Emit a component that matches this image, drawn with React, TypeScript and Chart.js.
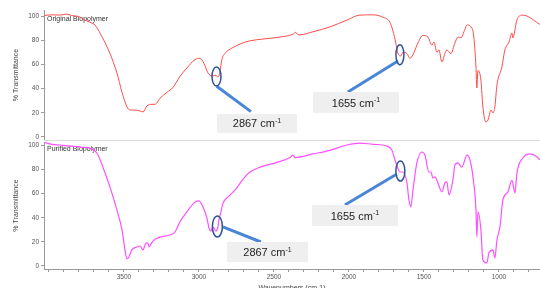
import React, { useEffect, useRef } from "react";
import { Chart, registerables } from "chart.js";

Chart.register(...registerables);

// ---------- data ----------
const wnOriginal = [
  4030, 3980, 3930, 3880, 3850, 3800, 3760, 3720, 3693, 3660, 3593, 3547, 3513, 3480, 3460, 3427, 3393, 3373,
  3347, 3313, 3293, 3260, 3213, 3173, 3127, 3080, 3027, 2993, 2967, 2940, 2913, 2887, 2873, 2860, 2847, 2827,
  2780, 2713, 2660, 2573, 2460, 2373, 2355, 2340, 2327, 2240, 2127, 2013, 1927, 1840, 1773, 1727, 1707, 1687,
  1673, 1653, 1640, 1613, 1593, 1573, 1540, 1507, 1473, 1447, 1433, 1413, 1400, 1380, 1360, 1347, 1320, 1293,
  1273, 1253, 1227, 1213, 1180, 1167, 1153, 1147, 1140, 1120, 1107, 1087, 1073, 1053, 1040, 1027, 1013, 980,
  960, 933, 913, 907, 880, 847, 813, 727,
];
const tOriginal = [
  100.5, 101, 100.8, 101.6, 100.5, 99.5, 96.7, 94.5, 92.6, 86, 69, 53, 37, 25, 22.3, 22.3, 21.5, 20.7,
  25.6, 27, 27, 32, 37, 41, 50, 57, 64, 65, 61, 53, 50.4, 51, 49.5, 54, 64, 69,
  73.5, 77.5, 79.5, 81, 82.6, 85, 86.5, 84.5, 84.5, 87, 91, 96.7, 100.8, 101, 99, 95, 88, 77.7,
  69, 67, 70, 69, 65, 68, 77.7, 84, 82.6, 76, 78.5, 70, 72, 62, 69, 72, 69, 77.7,
  82.6, 82, 89, 92.6, 90, 82.6, 58, 40.5, 55, 47, 25, 12.4, 14, 22.3, 19.8, 25, 43, 58,
  72, 78.5, 86, 82, 96.7, 100.8, 100, 93,
];

const wnPurified = [
  4030, 3980, 3927, 3850, 3780, 3727, 3680, 3640, 3593, 3547, 3513, 3493, 3480, 3467, 3447, 3413, 3393, 3373,
  3353, 3340, 3333, 3307, 3260, 3193, 3160, 3127, 3080, 3027, 3000, 2973, 2947, 2933, 2920, 2907, 2887, 2873,
  2867, 2853, 2840, 2800, 2760, 2700, 2660, 2593, 2480, 2393, 2373, 2360, 2240, 2127, 2013, 1927, 1840, 1747,
  1713, 1693, 1673, 1660, 1640, 1613, 1600, 1587, 1573, 1547, 1513, 1493, 1467, 1453, 1440, 1427, 1407, 1380,
  1360, 1347, 1333, 1307, 1293, 1273, 1247, 1213, 1193, 1173, 1153, 1147, 1140, 1120, 1107, 1080, 1067, 1040,
  1027, 1013, 993, 973, 940, 913, 893, 880, 840, 793, 747, 727,
];
const tPurified = [
  102.5, 101, 100.4, 99.5, 98.5, 97.7, 93.8, 82, 65.5, 46.5, 30, 13.3, 5.8, 7.5, 13.3, 15.8, 16.6, 13.3,
  19, 19, 15.8, 20.7, 24, 25.7, 28, 36.5, 45, 53, 54, 49, 40, 31.5, 29, 32.4, 29, 32.4,
  38, 45, 52, 58, 63, 73, 78, 82, 86, 90, 92, 90, 93, 96, 100.4, 102, 101, 99.6,
  96, 88, 81, 78, 78, 69, 55, 49, 63, 85.5, 94.6, 92, 78, 78, 73, 74, 69, 61.5,
  69, 70, 59, 71, 84, 85.5, 82, 92, 88, 74, 46.5, 24, 45, 30, 5, 2.5, 10.8, 13.3,
  6.6, 21.6, 32.4, 55, 61.5, 71, 60.6, 77, 89.6, 93, 90.6, 88,
];

const WN_MAX = 4033;
const WN_MIN = 726;
const xMajorTicks = [3500, 3000, 2500, 2000, 1500, 1000];
const xMinorStep = 100;
const yTicks = [0, 20, 40, 60, 80, 100];

type Note = {
  ex: number; ey: number; rx: number; ry: number;
  x1: number; y1: number; x2: number; y2: number;
  bx: number; by: number; bw: number; bh: number;
  label: string;
};

const topNotes: Note[] = [
  { ex: 2883, ey: 50, rx: 4.5, ry: 9.5, x1: 2882, y1: 42, x2: 2653, y2: 21, bx: 2613, by: 11.2, bw: 80, bh: 19, label: "2867" },
  { ex: 1660, ey: 68, rx: 4, ry: 10, x1: 1673, y1: 62.8, x2: 2007, y2: 37.2, bx: 1953, by: 28.5, bw: 86, bh: 21, label: "1655" },
];
const bottomNotes: Note[] = [
  { ex: 2877, ey: 32.8, rx: 5, ry: 10.5, x1: 2840, y1: 32.4, x2: 2587, y2: 19.9, bx: 2543, by: 11.6, bw: 81, bh: 20, label: "2867" },
  { ex: 1657, ey: 78.8, rx: 4.5, ry: 10, x1: 1680, y1: 76.3, x2: 2027, y2: 50.6, bx: 1960, by: 41.9, bw: 86, bh: 21, label: "1655" },
];

const FONT = "'Liberation Sans', Arial, sans-serif";

function makePlugin(notes: Note[], panelLabel: string, opts: { separator: boolean; xTitle: boolean }) {
  return {
    id: "notes",
    beforeDatasetsDraw(chart: any) {
      const ctx = chart.ctx;
      const a = chart.chartArea;
      ctx.save();
      ctx.font = `7px ${FONT}`;
      ctx.fillStyle = "#333";
      ctx.textBaseline = "middle";
      ctx.textAlign = "left";
      ctx.fillText(panelLabel, a.left + 3, chart.scales.y.getPixelForValue(100) + 3.5);
      ctx.restore();
    },
    afterDraw(chart: any) {
      const ctx = chart.ctx;
      const a = chart.chartArea;
      const xs = chart.scales.x;
      const ys = chart.scales.y;
      ctx.save();
      // y title
      ctx.save();
      ctx.translate(16, (a.top + a.bottom) / 2);
      ctx.rotate(-Math.PI / 2);
      ctx.font = `7px ${FONT}`;
      ctx.fillStyle = "#444";
      ctx.textAlign = "center";
      ctx.textBaseline = "middle";
      ctx.fillText("% Transmittance", 0, 0);
      ctx.restore();
      if (opts.separator) {
        ctx.strokeStyle = "#dcdcdc";
        ctx.lineWidth = 1;
        ctx.beginPath();
        ctx.moveTo(a.left, a.bottom + 0.5);
        ctx.lineTo(a.right, a.bottom + 0.5);
        ctx.stroke();
      }
      if (opts.xTitle) {
        // x tick labels (major ticks only)
        ctx.font = `6.5px ${FONT}`;
        ctx.fillStyle = "#555";
        ctx.textAlign = "center";
        ctx.textBaseline = "top";
        for (const v of xMajorTicks) {
          ctx.fillText(String(v), xs.getPixelForValue(v), a.bottom + 5);
        }
        ctx.font = `7px ${FONT}`;
        ctx.fillStyle = "#444";
        ctx.fillText("Wavenumbers (cm-1)", (a.left + a.right) / 2, a.bottom + 16);
      }
      for (const n of notes) {
        const px = (v: number) => xs.getPixelForValue(v);
        const py = (v: number) => ys.getPixelForValue(v);
        // connector line
        ctx.strokeStyle = "#4a86d8";
        ctx.lineWidth = 3;
        ctx.lineCap = "butt";
        ctx.beginPath();
        ctx.moveTo(px(n.x1), py(n.y1));
        ctx.lineTo(px(n.x2), py(n.y2));
        ctx.stroke();
        // box
        const cx = px(n.bx);
        const cy = py(n.by);
        ctx.fillStyle = "#efefef";
        ctx.fillRect(cx - n.bw / 2, cy - n.bh / 2, n.bw, n.bh);
        // text with superscript
        ctx.font = `11px ${FONT}`;
        const main = `${n.label} cm`;
        const mw = ctx.measureText(main).width;
        ctx.font = `7px ${FONT}`;
        const sw = ctx.measureText("-1").width;
        const start = cx - (mw + sw) / 2;
        ctx.fillStyle = "#222";
        ctx.textAlign = "left";
        ctx.textBaseline = "alphabetic";
        ctx.font = `11px ${FONT}`;
        ctx.fillText(main, start, cy + 4);
        ctx.font = `7px ${FONT}`;
        ctx.fillText("-1", start + mw, cy - 0.5);
        // ellipse
        ctx.strokeStyle = "#2f5597";
        ctx.lineWidth = 1.5;
        ctx.beginPath();
        ctx.ellipse(px(n.ex), py(n.ey), n.rx, n.ry, 0, 0, Math.PI * 2);
        ctx.stroke();
      }
      ctx.restore();
    },
  };
}

function yAxis(min: number, max: number) {
  return {
    min,
    max,
    afterBuildTicks: (s: any) => {
      s.ticks = yTicks.map((v) => ({ value: v }));
    },
    ticks: {
      color: "#555",
      font: { size: 6.5, family: FONT },
      padding: 2,
    },
    grid: { drawOnChartArea: false, drawTicks: true, tickLength: 3, color: "#999" },
    border: { color: "#999" },
    afterFit: (s: any) => {
      s.width = 44;
      s.paddingTop = 0;
      s.paddingBottom = 0;
    },
  };
}

function points(xs: number[], ys: number[]) {
  return xs.map((x, i) => ({ x, y: ys[i] }));
}

export default function App() {
  const topRef = useRef<HTMLCanvasElement>(null);
  const botRef = useRef<HTMLCanvasElement>(null);

  useEffect(() => {
    const top = new Chart(topRef.current!, {
      type: "line",
      data: {
        datasets: [
          {
            data: points(wnOriginal, tOriginal),
            borderColor: "rgb(255,75,75)",
            borderWidth: 1,
            pointRadius: 0,
            cubicInterpolationMode: "monotone",
            fill: false,
          },
        ],
      },
      options: {
        animation: false,
        responsive: false,
        maintainAspectRatio: false,
        layout: { padding: { top: 10, bottom: 1, left: 0, right: 0 } },
        plugins: { legend: { display: false }, tooltip: { enabled: false } },
        scales: {
          x: { type: "linear", reverse: true, min: WN_MIN, max: WN_MAX, display: false },
          y: yAxis(-2.5, 105) as any,
        },
      },
      plugins: [makePlugin(topNotes, "Original Biopolymer", { separator: true, xTitle: false })],
    });

    const bottom = new Chart(botRef.current!, {
      type: "line",
      data: {
        datasets: [
          {
            data: points(wnPurified, tPurified),
            borderColor: "rgb(255,80,255)",
            borderWidth: 1.2,
            pointRadius: 0,
            cubicInterpolationMode: "monotone",
            fill: false,
          },
        ],
      },
      options: {
        animation: false,
        responsive: false,
        maintainAspectRatio: false,
        layout: { padding: { top: 1, bottom: 0, left: 0, right: 0 } },
        plugins: { legend: { display: false }, tooltip: { enabled: false } },
        scales: {
          x: {
            type: "linear",
            reverse: true,
            min: WN_MIN,
            max: WN_MAX,
            afterBuildTicks: (s: any) => {
              const t: { value: number }[] = [];
              for (let v = Math.ceil(WN_MIN / xMinorStep) * xMinorStep; v <= WN_MAX; v += xMinorStep) t.push({ value: v });
              s.ticks = t;
            },
            ticks: {
              autoSkip: false,
              maxRotation: 0,
              color: "#555",
              font: { size: 6.5, family: FONT },
              padding: 2,
              callback: () => "",
            },
            grid: { drawOnChartArea: false, drawTicks: true, tickLength: 3, color: "#999" },
            border: { color: "#999" },
            afterFit: (s: any) => {
              s.height = 22;
              s.paddingLeft = 0;
              s.paddingRight = 0;
            },
          } as any,
          y: yAxis(-2.5, 102.9) as any,
        },
      },
      plugins: [makePlugin(bottomNotes, "Purified Biopolymer", { separator: false, xTitle: true })],
    });

    return () => {
      top.destroy();
      bottom.destroy();
    };
  }, []);

  return (
    <div
      style={{
        position: "fixed",
        left: 0,
        top: 0,
        width: 540,
        height: 288,
        overflow: "hidden",
        background: "#fff",
      }}
    >
      <canvas ref={topRef} width={540} height={141} style={{ position: "absolute", left: 0, top: 0, display: "block" }} />
      <canvas ref={botRef} width={540} height={150} style={{ position: "absolute", left: 0, top: 141, display: "block" }} />
    </div>
  );
}
